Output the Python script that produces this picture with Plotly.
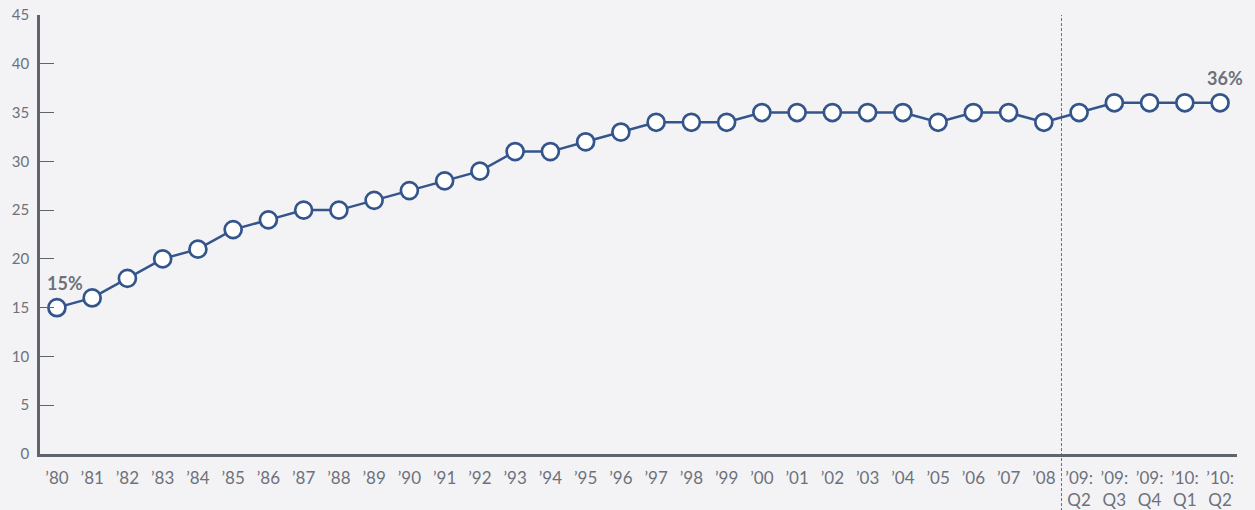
import plotly.graph_objects as go

labels = ["’80", "’81", "’82", "’83", "’84", "’85", "’86", "’87", "’88", "’89",
          "’90", "’91", "’92", "’93", "’94", "’95", "’96", "’97", "’98", "’99",
          "’00", "’01", "’02", "’03", "’04", "’05", "’06", "’07", "’08",
          "’09:<br>Q2", "’09:<br>Q3", "’09:<br>Q4", "’10:<br>Q1", "’10:<br>Q2"]
values = [15, 16, 18, 20, 21, 23, 24, 25, 25, 26,
          27, 28, 29, 31, 31, 32, 33, 34, 34, 34,
          35, 35, 35, 35, 35, 34, 35, 35, 34,
          35, 36, 36, 36, 36]
y_ticks = [0, 5, 10, 15, 20, 25, 30, 35, 40, 45]

xs = list(range(len(labels)))
bg = "#f3f3f6"
axis_col = "#5f636b"
text_col = "#6e717a"
line_col = "#34558b"

fig = go.Figure()
fig.add_trace(go.Scatter(
    x=xs, y=values, mode="lines+markers",
    line=dict(color=line_col, width=2.5),
    marker=dict(size=17, color="white", line=dict(color=line_col, width=2.7)),
    hoverinfo="skip", showlegend=False, cliponaxis=False,
))

fig.add_shape(type="line", xref="x", yref="paper", x0=28.5, x1=28.5, y0=-0.13, y1=1.0,
              line=dict(color="#6a6d75", width=1, dash="3px,2px"), layer="below")

fig.add_annotation(x=0, y=values[0], text="<b>15%</b>", showarrow=False,
                   xanchor="center", yanchor="bottom", yshift=12, xshift=8,
                   font=dict(size=18, color=text_col, family="Lato"))
fig.add_annotation(x=xs[-1], y=values[-1], text="<b>36%</b>", showarrow=False,
                   xanchor="center", yanchor="bottom", yshift=12, xshift=5,
                   font=dict(size=18, color=text_col, family="Lato"))

fig.update_layout(
    width=1255, height=510,
    margin=dict(l=40, r=18, t=15, b=56, autoexpand=False),
    paper_bgcolor=bg, plot_bgcolor=bg,
    font=dict(family="Lato", color=text_col),
    xaxis=dict(range=[-0.48, len(labels) - 1 + 0.48], tickmode="array",
               tickvals=xs, ticktext=labels, showgrid=False, zeroline=False,
               showline=True, linecolor=axis_col, linewidth=2.5, ticks="",
               automargin=False, ticklabelstandoff=7,
               tickfont=dict(size=17, color=text_col), fixedrange=True),
    yaxis=dict(range=[0, 45], tickmode="array", tickvals=y_ticks,
               showgrid=False, zeroline=False, showline=True, linecolor=axis_col,
               linewidth=2.5, ticks="inside", ticklen=14, tickcolor=axis_col,
               automargin=False, ticklabelstandoff=5,
               tickwidth=1.2, tickfont=dict(size=15, color=text_col), fixedrange=True),
)

fig.write_html("out.html", config={"displayModeBar": False},
               post_script="document.body.style.margin='0';document.body.style.overflow='hidden';document.body.style.background='#f3f3f6';")
